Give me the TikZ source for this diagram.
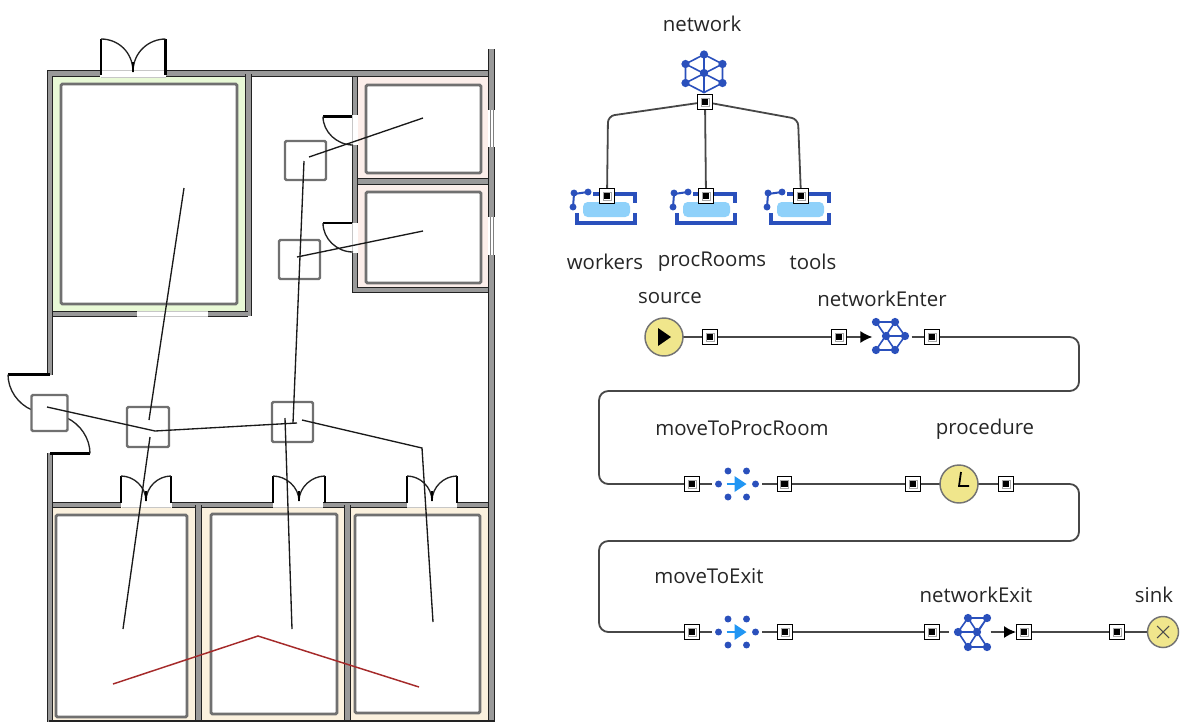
\documentclass[tikz,border=0pt]{standalone}
\usepackage{fontspec}
\setmainfont{Open Sans}
\usetikzlibrary{arrows.meta,backgrounds}
\definecolor{wallgray}{HTML}{999999}
\definecolor{walldark}{HTML}{222222}
\definecolor{innergray}{HTML}{707070}
\definecolor{greenfloor}{HTML}{E8F9D6}
\definecolor{pinkfloor}{HTML}{FCEEEA}
\definecolor{creamfloor}{HTML}{FBF1DE}
\definecolor{netblue}{HTML}{2A50BC}
\definecolor{lightres}{HTML}{8FD1FA}
\definecolor{brightblue}{HTML}{2196F3}
\definecolor{khaki}{HTML}{F0E68C}
\definecolor{redline}{HTML}{A52A2A}
\tikzset{
  x=0.75pt,y=-0.75pt,
  wall/.style={draw=walldark,line width=0.9pt,double=wallgray,double distance=3.1pt},
  inner/.style={draw=innergray,line width=2.1pt,rounded corners=1pt},
  attr/.style={draw=innergray,line width=1.8pt,rounded corners=1pt},
  post/.style={draw=black,line width=1.9pt},
  leaf/.style={draw=walldark,line width=1pt},
  gapline/.style={draw=black!22,line width=0.6pt},
  route/.style={draw=black!90,line width=1pt},
  portbox/.style={rectangle,draw=black,fill=white,line width=0.9pt,minimum size=11pt,inner sep=0pt,
    path picture={\draw[black!35,line width=.7pt] ([xshift=-3pt,yshift=-3pt]path picture bounding box.center) rectangle +(6pt,6pt);
      \fill[black] ([xshift=-2.4pt,yshift=-2.4pt]path picture bounding box.center) rectangle +(4.8pt,4.8pt);}},
  flow/.style={draw=black!72,line width=1.35pt,rounded corners=7pt},
  txt/.style={text=black!85,font=\fontsize{15.3}{18}\selectfont,inner sep=0pt},
  block/.style={circle,draw=black!55,fill=khaki,line width=1.1pt,inner sep=0pt},
  hidden/.style={circle,inner sep=0pt,minimum size=#1},
  headtip/.style={-{Latex[length=9pt,width=9pt,black]}},
}
\newcommand{\netdot}[2]{\fill[netblue] (#1,#2) circle (3.1pt);}
\newcommand{\smalldot}[2]{\fill[netblue] (#1,#2) circle (2.6pt);}
\newcommand{\resicon}[2]{%
  \begin{scope}[shift={(#1,#2)}]
    \fill[lightres,rounded corners=3.5pt] (6,8) rectangle (53,23);
    \draw[netblue,line width=2.6pt] (16,0) -- (58,0) -- (58,9);
    \draw[netblue,line width=2.6pt] (0,19) -- (0,29) -- (58,29) -- (58,19);
    \draw[netblue,line width=1.5pt] (-4,13) -- (-3,0) -- (11,-2);
    \smalldot{-4}{13}\smalldot{-3}{-1}\smalldot{11}{-2}
  \end{scope}}
\newcommand{\moveicon}[2]{%
  \begin{scope}[shift={(#1,#2)}]
    \smalldot{-19}{0}\smalldot{18}{0}\smalldot{-9.5}{-13}\smalldot{9}{-13}\smalldot{-9.5}{13}\smalldot{9}{13}
    \draw[brightblue,line width=1.2pt] (-11,0) -- (5,0);
    \fill[brightblue] (9,0) -- (-3,-8) -- (-3,8) -- cycle;
  \end{scope}}
\begin{document}
\begin{tikzpicture}
\useasboundingbox (0,0) rectangle (1180,722);
% ---------- floors
\fill[greenfloor] (53,77) rectangle (245,311);
\fill[pinkfloor] (358,77) rectangle (488,178);
\fill[pinkfloor] (358,185) rectangle (488,287);
\fill[creamfloor] (53,507) rectangle (195,720);
\fill[creamfloor] (202,507) rectangle (345,720);
\fill[creamfloor] (350,507) rectangle (488,720);
% ---------- inner rooms
\draw[inner,fill=white] (61,84) rectangle (237,304);
\draw[inner,fill=white] (366,85) rectangle (481,173);
\draw[inner,fill=white] (366,192) rectangle (481,283);
\draw[inner,fill=white] (56,515) rectangle (187,717);
\draw[inner,fill=white] (211,514) rectangle (337,714);
\draw[inner,fill=white] (355,515) rectangle (480,713);
% ---------- door gaps
\draw[gapline] (101,70) -- (166,70) (101,77) -- (166,77);
\draw[gapline] (137,311) -- (208,311) (137,316) -- (208,316);
\draw[gapline] (352,115) -- (352,145) (352,223) -- (352,253);
\draw[gapline] (122,507) -- (171,507) (273,507) -- (323,507) (407,507) -- (457,507);
% ---------- walls
\draw[wall] (100,73.5) -- (50,73.5) -- (50,375);
\draw[wall] (50,453) -- (50,722);
\draw[wall] (166,73.5) -- (488,73.5);
\draw[wall] (248.5,74) -- (248.5,316);
\draw[wall] (53,314) -- (137,314);
\draw[wall] (208,314) -- (248,314);
\draw[wall] (355,77) -- (355,115);
\draw[wall] (355,145) -- (355,223);
\draw[wall] (355,253) -- (355,290) -- (488,290);
\draw[wall] (358,181.5) -- (488,181.5);
\draw[wall] (491.5,49) -- (491.5,110);
\draw[wall] (491.5,147) -- (491.5,217);
\draw[wall] (491.5,255) -- (491.5,722);
\draw[black!50,line width=.6pt] (490.5,110) -- (490.5,147) (493,110) -- (493,147) (490.5,217) -- (490.5,255) (493,217) -- (493,255);
\draw[wall] (53,505) -- (121,505);
\draw[wall] (172,505) -- (273,505);
\draw[wall] (323,505) -- (407,505);
\draw[wall] (457,505) -- (488,505);
\draw[wall] (198.5,505) -- (198.5,722);
\draw[wall] (347.5,505) -- (347.5,722);
\draw[draw=walldark,line width=1.2pt] (49,721) -- (495,721);
% ---------- doors
\draw[post] (101,75) -- (101,39);
\draw[post] (165.5,75) -- (165.5,39);
\draw[leaf] (101,39) .. controls (118,39) and (133,52) .. (133,72);
\draw[leaf] (165.5,39) .. controls (149,39) and (133,52) .. (133,72);
\draw[post] (133,62) -- (133,72);
\foreach \xa/\xb in {121/146,273/299,407/432} {
  \pgfmathsetmacro{\xc}{\xa+2*(\xb-\xa)}
  \draw[post] (\xa,503) -- (\xa,476);
  \draw[post] (\xc,503) -- (\xc,476);
  \draw[leaf] (\xa,476) .. controls (\xa+13,476) and (\xb,487) .. (\xb,501);
  \draw[leaf] (\xc,476) .. controls (\xc-13,476) and (\xb,487) .. (\xb,501);
  \draw[post] (\xb,491) -- (\xb,501);
}
\draw[post] (352,116.5) -- (323,116.5);
\draw[leaf] (323,116.5) .. controls (323,132) and (337,145) .. (353,145);
\draw[post] (352,223) -- (323,223);
\draw[leaf] (323,223) .. controls (323,239) and (337,252) .. (353,252);
\draw[post] (50,374.5) -- (8,374.5);
\draw[leaf] (8,374.5) .. controls (8,390) and (18,404) .. (32,410);
\draw[post] (50,453.5) -- (90,453.5);
\draw[leaf] (90,453.5) .. controls (90,438) and (80,424) .. (67,418);
% ---------- attractor boxes
\draw[attr,fill=white] (31.5,395) rectangle (67.5,431);
\draw[attr] (127,407) rectangle (169,447);
\draw[attr] (272,402) rectangle (313,442);
\draw[attr] (285,141) rectangle (326,180);
\draw[attr] (279,240) rectangle (320,279);
% ---------- routes
\draw[route] (184,188) -- (149,420);
\draw[route] (150,437) -- (123,629);
\draw[route] (47,407) -- (155,431) -- (297,423);
\draw[route] (302,420) -- (422,448) -- (433,622);
\draw[route] (285,418) -- (292,629);
\draw[route] (304,161) -- (293,423);
\draw[route] (309,157) -- (423,118);
\draw[route] (297,257) -- (423,231);
\draw[draw=redline,line width=1.1pt] (113,684) -- (258,636) -- (419,687);
% ---------- network block
\begin{scope}[shift={(704,73)}]
  \draw[netblue,line width=1.2pt] (0,-18.5) -- (18.5,-9) -- (18.5,10) -- (0,19.5) -- (-18.5,10) -- (-18.5,-9) -- cycle;
  \draw[netblue,line width=1.2pt] (0,-18.5) -- (0,19.5) (-18.5,-9) -- (18.5,10) (18.5,-9) -- (-18.5,10);
  \netdot{0}{-18.5}\netdot{18.5}{-9}\netdot{18.5}{10}\netdot{-18.5}{10}\netdot{-18.5}{-9}\netdot{0}{0}
\end{scope}
\resicon{577}{194}
\resicon{677}{194}
\resicon{771}{194}
\node[portbox] (pnet) at (705,102) {};
\node[portbox] (pwork) at (607,196) {};
\node[portbox] (proom) at (706,196) {};
\node[portbox] (ptool) at (801,196) {};
\node[txt] (lnet) at (702,24) {network};
\node[txt] (lwork) at (605,262) {workers};
\node[txt] (lroom) at (712,262) {procRooms};
\node[txt] (ltool) at (813,262) {tools};
% ---------- process row 1
\node[block,minimum size=38*0.75pt] (source) at (664,337) {};
\fill[black] (source.center) ++(7,0) -- ++(-13,-9) -- ++(0,18) -- cycle;
\node[portbox] (ps) at (710,337) {};
\node[portbox] (pne1) at (839,337) {};
\node[hidden=26pt] (ne) at (890,337) {};
\begin{scope}[shift={(ne.center)}]
  \draw[netblue,line width=1.2pt] (-14,-15) -- (5,-15) -- (15,-1) -- (5,13) -- (-14,13) -- (5,-15) (-14,-15) -- (5,13) (-4,-1) -- (15,-1);
  \netdot{-14}{-15}\netdot{5}{-15}\netdot{15}{-1}\netdot{5}{13}\netdot{-14}{13}\netdot{-4}{-1}
\end{scope}
\node[portbox] (pne2) at (932,337) {};
\node[txt] (lsource) at (670,298.5) {source};
\node[txt] (lne) at (882,299) {networkEnter};
% ---------- process row 2
\node[portbox] (pm1) at (692,484) {};
\moveicon{737.5}{484}
\node[hidden=38pt*0.75] (mp) at (737.5,484) {};
\node[portbox] (pm2) at (784.5,484) {};
\node[portbox] (pc1) at (913,484) {};
\node[block,minimum size=38*0.75pt] (clock) at (959,484) {};
\draw[black,line width=1.3pt] (961,472) -- (959,486) -- (969,486);
\node[portbox] (pc2) at (1006,484) {};
\node[txt] (lmp) at (742,428) {moveToProcRoom};
\node[txt] (lproc) at (985,429.5) {procedure};
% ---------- process row 3
\node[portbox] (pe1) at (692,632) {};
\moveicon{737.5}{632}
\node[hidden=38pt*0.75] (me) at (737.5,632) {};
\node[portbox] (pe2) at (785,632) {};
\node[portbox] (px1) at (932,632) {};
\node[hidden=26pt] (nx) at (973,632) {};
\begin{scope}[shift={(nx.center)}]
  \draw[netblue,line width=1.2pt] (-5,-14) -- (14,-14) -- (4,0) -- (14,15) -- (-5,15) -- (-15,0) -- cycle (-15,0) -- (4,0) (-5,-14) -- (14,15) (14,-14) -- (-5,15);
  \netdot{-5}{-14}\netdot{14}{-14}\netdot{-15}{0}\netdot{4}{0}\netdot{-5}{15}\netdot{14}{15}
\end{scope}
\node[portbox] (px2) at (1024,632) {};
\node[portbox] (psk) at (1117,632) {};
\node[block,minimum size=31*0.75pt] (sink) at (1163,632) {};
\draw[black!70,line width=.8pt] (sink.center) ++(-6,-6) -- ++(12,12) (sink.center) ++(6,-6) -- ++(-12,12);
\node[txt] (lme) at (709,576) {moveToExit};
\node[txt] (lnx) at (976,595) {networkExit};
\node[txt] (lsink) at (1154,595) {sink};
% ---------- connectors
\begin{pgfonlayer}{background}
  \draw[flow,rounded corners=5pt] (pnet.center) -- (608,116) -- (pwork.center);
  \draw[flow] (pnet.center) -- (proom.center);
  \draw[flow,rounded corners=5pt] (pnet.center) -- (798,119) -- (ptool.center);
  \draw[flow] (source.center) -- (ps.center) -- (pne1.center);
  \draw[flow,headtip] (pne1.center) -- (ne.west);
  \draw[flow,shorten <=3pt] (ne.east) -- (pne2.center);
  \draw[flow] (pne2.center) -- (1079,337) -- (1079,391) -- (599,391) -- (599,484) -- (pm1.center);
  \draw[flow,shorten >=5pt] (pm1.center) -- (mp.west);
  \draw[flow,shorten <=4pt] (mp.east) -- (pm2.center);
  \draw[flow] (pm2.center) -- (pc1.center) -- (clock.center) -- (pc2.center);
  \draw[flow] (pc2.center) -- (1079,484) -- (1079,541) -- (599,541) -- (599,632) -- (pe1.center);
  \draw[flow,shorten >=5pt] (pe1.center) -- (me.west);
  \draw[flow,shorten <=4pt] (me.east) -- (pe2.center);
  \draw[flow] (pe2.center) -- (px1.center);
  \draw[flow,shorten >=5pt] (px1.center) -- (nx.west);
  \draw[flow,headtip] (nx.east) -- (px2.west);
  \draw[flow] (px2.center) -- (psk.center) -- (sink.center);
\end{pgfonlayer}
\end{tikzpicture}
\end{document}
